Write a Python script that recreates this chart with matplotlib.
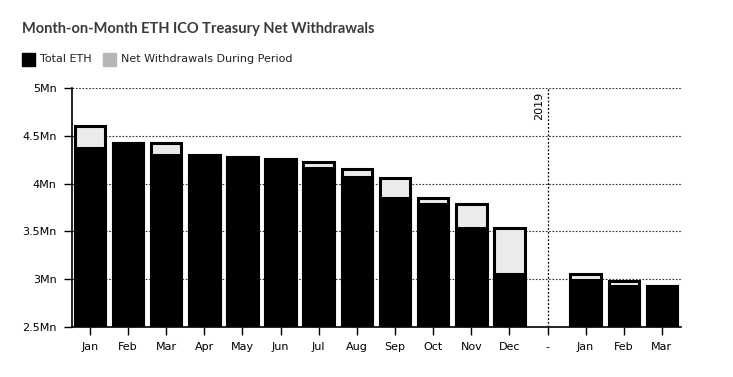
import matplotlib.pyplot as plt
from matplotlib.patches import Rectangle

# values in millions of ETH
months = ["Jan", "Feb", "Mar", "Apr", "May", "Jun", "Jul", "Aug",
          "Sep", "Oct", "Nov", "Dec", "-", "Jan", "Feb", "Mar"]
start_eth = [4.60, 4.42, 4.42, 4.30, 4.28, 4.26, 4.23, 4.15,
             4.06, 3.85, 3.79, 3.54, None, 3.05, 2.98, 2.93]
total_eth = [4.37, 4.42, 4.30, 4.30, 4.28, 4.26, 4.16, 4.07,
             3.85, 3.79, 3.54, 3.05, None, 2.99, 2.93, 2.93]
yticks = [2.5, 3, 3.5, 4, 4.5, 5]
ytick_labels = ["2.5Mn", "3Mn", "3.5Mn", "4Mn", "4.5Mn", "5Mn"]

BASE = 2.5
W, H = 733, 377

fig = plt.figure(figsize=(W / 100, H / 100), dpi=100)
ax = fig.add_axes([72 / W, 1 - 327 / H, (681 - 72) / W, (327 - 88) / H])

for i, (s, t) in enumerate(zip(start_eth, total_eth)):
    if s is None:
        continue
    ax.bar(i, s - BASE, bottom=BASE, width=0.8, color="#ebebeb",
           edgecolor="black", linewidth=2.2, zorder=3)
    ax.bar(i, t - BASE, bottom=BASE, width=0.8, color="black",
           edgecolor="black", linewidth=2.2, zorder=3)

ax.set_xlim(-0.47, len(months) - 0.5)
ax.set_ylim(2.5, 5)
ax.set_yticks(yticks)
ax.set_yticklabels(ytick_labels)
ax.set_xticks(range(len(months)))
ax.set_xticklabels(months)
ax.tick_params(axis="both", labelsize=8, length=6, width=1, color="black",
               labelcolor="black")
ax.tick_params(axis="y", pad=5)
ax.tick_params(axis="x", pad=5)

for y in yticks:
    ax.axhline(y, color="#333333", linestyle=(0, (1.5, 1.5)), linewidth=0.8, zorder=1)
ax.axvline(12, color="black", linestyle=(0, (1.5, 1.5)), linewidth=0.9, zorder=1)
ax.text(11.9, 4.96, "2019", rotation=90, ha="right", va="top", fontsize=8)

for side in ("top", "right"):
    ax.spines[side].set_visible(False)
ax.spines["left"].set_linewidth(1.2)
ax.spines["bottom"].set_linewidth(1.2)
ax.spines["left"].set_zorder(4)
ax.spines["bottom"].set_zorder(4)

fig.text(22 / W, 1 - 29 / H, "Month-on-Month ETH ICO Treasury Net Withdrawals",
         fontsize=10.5, fontweight="bold", family="Lato", color="#3a3a3a",
         va="center", ha="left")

fig.patches.append(Rectangle((22 / W, 1 - 66 / H), 13 / W, 13 / H,
                             transform=fig.transFigure, color="black"))
fig.text(40 / W, 1 - 59 / H, "Total ETH", fontsize=8, va="center", color="#222222")
fig.patches.append(Rectangle((103 / W, 1 - 66 / H), 13 / W, 13 / H,
                             transform=fig.transFigure, color="#b5b7b7"))
fig.text(121 / W, 1 - 59 / H, "Net Withdrawals During Period", fontsize=8,
         va="center", color="#222222")

fig.savefig("out.png", dpi=100)
